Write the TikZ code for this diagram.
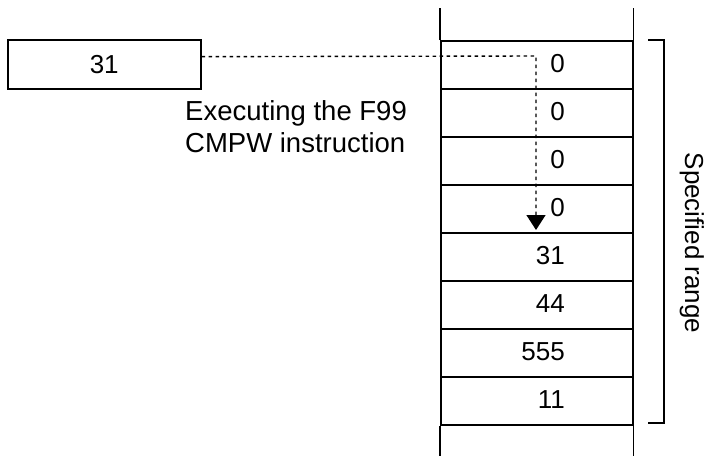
\documentclass[tikz,border=0pt]{standalone}
\usepackage{fontspec}
\setmainfont{Liberation Sans}
\usetikzlibrary{arrows.meta,calc}
\begin{document}
\begin{tikzpicture}[x=1pt,y=-1pt,
  every node/.style={font=\fontsize{26}{32}\selectfont},
  line/.style={line width=1.5pt},
  cellbox/.style={draw,line width=1.5pt,minimum width=192pt,minimum height=48pt,inner sep=0pt,anchor=north west},
  val/.style={inner sep=0pt,anchor=east},
  conn/.style={line width=1.4pt,dash pattern=on 3.5pt off 3.5pt,-{Triangle[length=15pt,width=19pt]}}]
\useasboundingbox (0,0) rectangle (709,455);
% source box
\node[draw,line width=1.5pt,minimum width=193pt,minimum height=49pt,inner sep=0pt,anchor=north west] (src) at (7,39) {};
\node at (src.center) {31};
% column cells
\foreach \i/\v in {0/0,1/0,2/0,3/0,4/31,5/44,6/555,7/11}{
  \node[cellbox] (c\i) at (440,{40+48*\i}) {};
  \node[val] (v\i) at ({565},{64+48*\i}) {\v};
}
% column continuation
\draw[line] (c0.north west) -- ++(0,-32);
\draw[line] (c0.north east) -- ++(0,-32);
\draw[line] (c7.south west) -- ++(0,30);
\draw[line] (c7.south east) -- ++(0,30);
% label
\node[inner sep=0pt,anchor=north west,align=left,font=\fontsize{27.5}{32}\selectfont] (lbl) at (185,100) {Executing the F99\\CMPW instruction};
% connector
\coordinate (start) at ($(src.north east)!0.35!(src.south east)$);
\coordinate (turn) at (536,56);
\coordinate (tip) at (536,230);
\draw[conn] (start) -- (turn) -- (tip);
% bracket
\draw[line] (648,40) -- (664,40) -- (664,423) -- (648,423);
\node[rotate=-90,anchor=base,inner sep=0pt] (rng) at (685,243) {Specified range};
\end{tikzpicture}
\end{document}
